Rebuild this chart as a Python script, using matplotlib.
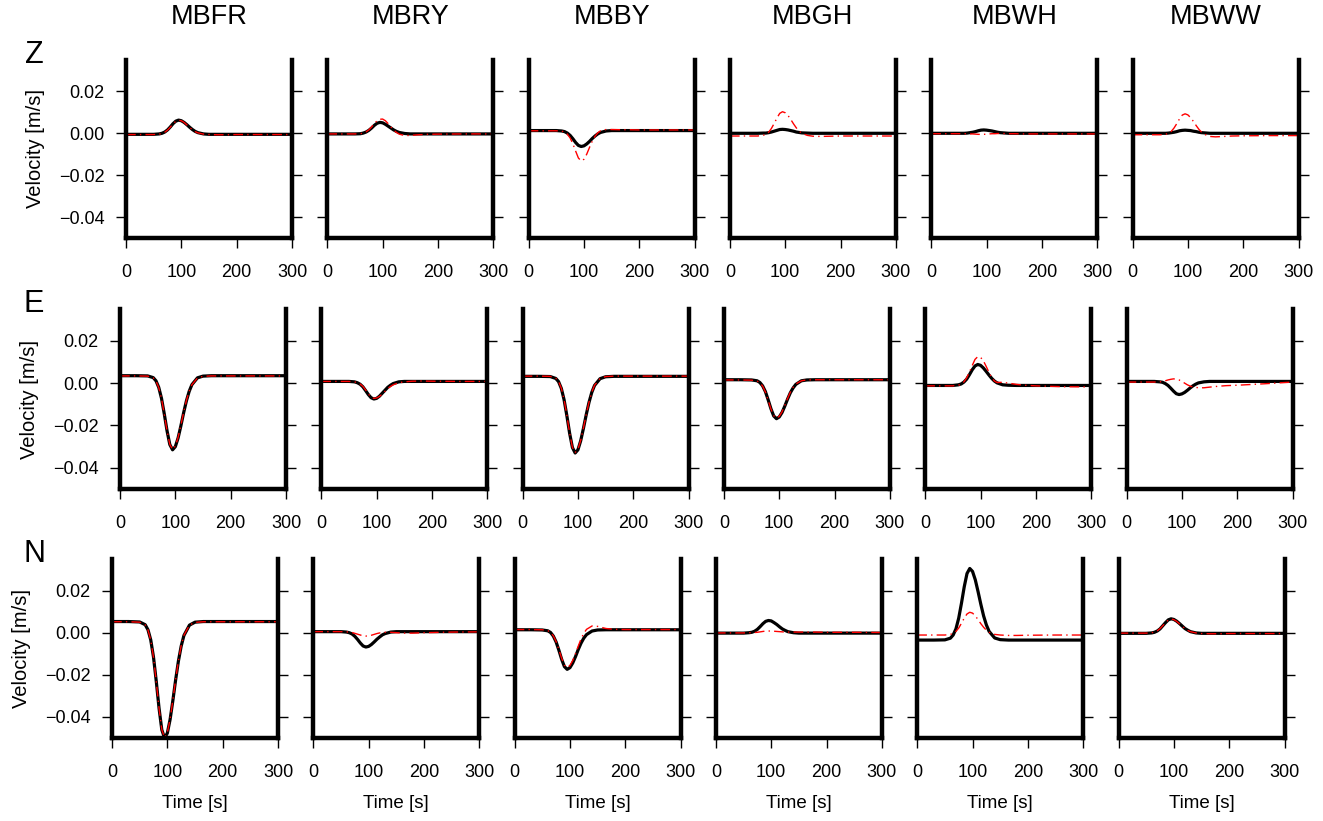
import numpy as np
import matplotlib.pyplot as plt

plt.rcParams['font.family'] = ['Liberation Sans', 'DejaVu Sans']

stations = ['MBFR', 'MBRY', 'MBBY', 'MBGH', 'MBWH', 'MBWW']
components = ['Z', 'E', 'N']

# sample times [s]
t = np.array([0, 30, 50, 60, 65, 70, 75, 80, 85, 90, 95, 100, 105, 110, 115,
              120, 125, 130, 140, 150, 165, 180, 200, 250, 300])

# velocities in mm/s: observed (black) and synthetic (red) per component/station
obs = {
    'Z': [
        [-0.5, -0.5, -0.5, -0.3, 0.0, 0.6, 1.6, 3.0, 4.6, 5.8, 6.3, 6.0, 5.2, 4.1, 2.9, 1.8, 0.9, 0.3, -0.3, -0.5, -0.5, -0.5, -0.5, -0.5, -0.5],
        [-0.3, -0.3, -0.3, -0.2, 0.1, 0.6, 1.4, 2.5, 3.8, 4.8, 5.2, 5.0, 4.3, 3.4, 2.5, 1.6, 0.9, 0.4, -0.1, -0.3, -0.3, -0.3, -0.3, -0.3, -0.3],
        [1.3, 1.3, 1.3, 1.1, 0.8, 0.1, -1.0, -2.6, -4.4, -5.8, -6.3, -6.0, -5.1, -3.9, -2.5, -1.3, -0.3, 0.4, 1.1, 1.3, 1.3, 1.3, 1.3, 1.3, 1.3],
        [0.0, 0.0, 0.0, 0.1, 0.1, 0.3, 0.6, 1.0, 1.4, 1.8, 1.9, 1.8, 1.6, 1.3, 1.0, 0.6, 0.4, 0.2, 0.1, 0.0, 0.0, 0.0, 0.0, 0.0, 0.0],
        [0.0, 0.0, 0.0, 0.0, 0.1, 0.3, 0.5, 0.8, 1.2, 1.5, 1.6, 1.5, 1.3, 1.1, 0.8, 0.5, 0.3, 0.2, 0.0, 0.0, 0.0, 0.0, 0.0, 0.0, 0.0],
        [0.0, 0.0, 0.0, 0.0, 0.1, 0.3, 0.5, 0.8, 1.2, 1.4, 1.5, 1.4, 1.3, 1.0, 0.8, 0.5, 0.3, 0.2, 0.0, 0.0, 0.0, 0.0, 0.0, 0.0, 0.0],
    ],
    'E': [
        [3.5, 3.5, 3.4, 2.6, 1.1, -2.0, -7.2, -14.5, -22.5, -29.0, -31.5, -30.0, -25.9, -20.2, -14.0, -8.4, -3.9, -0.7, 2.5, 3.3, 3.5, 3.5, 3.5, 3.5, 3.5],
        [0.8, 0.8, 0.8, 0.6, 0.2, -0.5, -1.7, -3.5, -5.4, -6.9, -7.5, -7.2, -6.2, -4.8, -3.4, -2.0, -1.0, -0.2, 0.6, 0.8, 0.8, 0.8, 0.8, 0.8, 0.8],
        [3.2, 3.2, 3.1, 2.2, 0.7, -2.5, -7.9, -15.4, -23.7, -30.4, -33.0, -31.5, -27.2, -21.3, -14.9, -9.1, -4.4, -1.1, 2.1, 3.0, 3.2, 3.2, 3.2, 3.2, 3.2],
        [1.6, 1.6, 1.5, 1.1, 0.3, -1.3, -4.0, -7.9, -12.1, -15.5, -16.8, -16.0, -13.9, -10.9, -7.6, -4.6, -2.3, -0.6, 1.1, 1.5, 1.6, 1.6, 1.6, 1.6, 1.6],
        [-1.1, -1.1, -1.1, -0.8, -0.4, 0.5, 1.9, 4.0, 6.3, 8.1, 8.8, 8.4, 7.2, 5.6, 3.9, 2.3, 1.0, 0.1, -0.8, -1.0, -1.1, -1.1, -1.1, -1.1, -1.1],
        [0.8, 0.8, 0.8, 0.6, 0.4, -0.2, -1.1, -2.4, -3.8, -5.0, -5.4, -5.1, -4.4, -3.4, -2.3, -1.3, -0.5, 0.1, 0.6, 0.8, 0.8, 0.8, 0.8, 0.8, 0.8],
    ],
    'N': [
        [5.3, 5.3, 5.1, 3.8, 1.4, -3.4, -11.6, -23.1, -35.8, -46.1, -50.0, -47.7, -41.2, -32.2, -22.4, -13.5, -6.4, -1.3, 3.6, 5.0, 5.3, 5.3, 5.3, 5.3, 5.3],
        [0.5, 0.5, 0.5, 0.3, 0.0, -0.6, -1.7, -3.2, -4.9, -6.3, -6.8, -6.5, -5.6, -4.4, -3.1, -2.0, -1.0, -0.4, 0.3, 0.5, 0.5, 0.5, 0.5, 0.5, 0.5],
        [1.4, 1.4, 1.3, 0.9, 0.1, -1.6, -4.4, -8.3, -12.6, -16.1, -17.4, -16.6, -14.4, -11.4, -8.0, -5.0, -2.6, -0.9, 0.8, 1.3, 1.4, 1.4, 1.4, 1.4, 1.4],
        [-0.2, -0.2, -0.2, 0.0, 0.2, 0.7, 1.6, 2.9, 4.3, 5.4, 5.8, 5.6, 4.8, 3.9, 2.8, 1.8, 1.1, 0.5, 0.0, -0.2, -0.2, -0.2, -0.2, -0.2, -0.2],
        [-3.5, -3.5, -3.4, -2.6, -1.1, 1.8, 6.9, 14.0, 21.8, 28.1, 30.5, 29.1, 25.1, 19.5, 13.5, 8.0, 3.7, 0.6, -2.5, -3.3, -3.5, -3.5, -3.5, -3.5, -3.5],
        [-0.3, -0.3, -0.3, -0.1, 0.2, 0.8, 1.8, 3.3, 4.8, 6.1, 6.6, 6.3, 5.5, 4.4, 3.2, 2.0, 1.2, 0.5, -0.1, -0.3, -0.3, -0.3, -0.3, -0.3, -0.3],
    ],
}

syn = {
    'Z': [
        [-0.6, -0.6, -0.6, -0.4, -0.1, 0.5, 1.5, 2.9, 4.5, 5.7, 6.2, 6.0, 5.2, 4.0, 2.8, 1.7, 0.8, 0.2, -0.4, -0.6, -0.7, -0.7, -0.6, -0.6, -0.6],
        [-0.3, -0.3, -0.3, -0.2, 0.1, 0.7, 1.6, 3.0, 4.6, 6.0, 6.7, 6.8, 6.0, 4.6, 3.0, 1.5, 0.4, -0.4, -1.1, -1.0, -0.7, -0.5, -0.4, -0.3, -0.3],
        [1.2, 1.2, 1.2, 1.0, 0.6, -0.4, -2.2, -5.0, -8.5, -11.8, -13.2, -12.4, -10.0, -6.8, -3.8, -1.4, 0.2, 1.2, 1.8, 1.8, 1.7, 1.7, 1.6, 1.6, 1.6],
        [-1.3, -1.3, -1.3, -1.0, -0.5, 0.5, 2.3, 4.7, 7.3, 9.5, 10.3, 9.8, 8.5, 6.6, 4.5, 2.6, 1.1, 0.0, -1.0, -1.4, -1.5, -1.4, -1.3, -1.3, -1.3],
        [-0.2, -0.2, -0.2, -0.2, -0.2, -0.3, -0.3, -0.4, -0.5, -0.5, -0.5, -0.4, -0.3, -0.2, -0.2, -0.1, -0.1, -0.1, -0.2, -0.2, -0.3, -0.3, -0.3, -0.3, -0.3],
        [-0.7, -0.7, -0.7, -0.5, 0.0, 0.9, 2.5, 4.6, 6.9, 8.7, 9.3, 8.8, 7.5, 5.7, 3.7, 1.9, 0.5, -0.5, -1.5, -1.7, -1.5, -1.3, -1.2, -1.1, -1.1],
    ],
    'E': [
        [3.4, 3.4, 3.3, 2.5, 1.0, -2.1, -7.3, -14.6, -22.6, -28.9, -31.3, -29.8, -25.6, -19.9, -13.8, -8.2, -3.8, -0.7, 2.4, 3.2, 3.4, 3.4, 3.4, 3.4, 3.4],
        [0.8, 0.8, 0.8, 0.6, 0.2, -0.4, -1.5, -3.2, -5.1, -6.6, -7.2, -7.0, -6.3, -5.2, -3.9, -2.6, -1.6, -0.8, 0.2, 0.6, 0.9, 1.0, 0.9, 0.8, 0.8],
        [3.3, 3.3, 3.2, 2.3, 0.8, -2.4, -7.8, -15.3, -23.6, -30.3, -32.8, -31.2, -27.0, -21.1, -14.8, -9.0, -4.3, -1.0, 2.2, 3.1, 3.3, 3.3, 3.3, 3.3, 3.3],
        [1.5, 1.5, 1.4, 1.0, 0.2, -1.4, -4.2, -8.1, -12.2, -15.4, -16.5, -15.7, -13.6, -10.6, -7.3, -4.3, -2.0, -0.4, 1.1, 1.5, 1.6, 1.6, 1.6, 1.6, 1.6],
        [-1.3, -1.3, -1.3, -1.0, -0.5, 0.6, 2.5, 5.2, 8.3, 11.2, 12.5, 12.2, 10.6, 8.0, 5.2, 2.7, 1.0, 0.3, 0.4, 0.0, -0.6, -1.0, -1.3, -1.7, -1.8],
        [0.5, 0.5, 0.5, 0.6, 0.8, 1.1, 1.5, 1.8, 2.0, 1.9, 1.5, 0.8, 0.0, -0.8, -1.4, -1.8, -2.0, -2.2, -2.2, -1.9, -1.5, -1.2, -1.0, -0.3, 0.5],
    ],
    'N': [
        [5.2, 5.2, 5.0, 3.7, 1.3, -3.5, -11.7, -23.2, -35.9, -46.0, -49.8, -47.5, -41.0, -32.0, -22.2, -13.3, -6.2, -1.2, 3.6, 4.9, 5.2, 5.2, 5.2, 5.2, 5.2],
        [0.5, 0.5, 0.5, 0.4, 0.3, 0.1, -0.3, -0.7, -1.1, -1.5, -1.6, -1.5, -1.2, -0.8, -0.4, -0.1, 0.1, 0.2, 0.2, 0.0, -0.2, -0.2, 0.0, 0.3, 0.4],
        [1.5, 1.5, 1.4, 1.0, 0.2, -1.5, -4.2, -8.0, -12.1, -15.4, -16.5, -15.6, -13.2, -10.0, -6.4, -3.0, -0.3, 1.6, 3.2, 3.0, 2.0, 1.6, 1.5, 1.5, 1.5],
        [-0.1, -0.1, -0.1, 0.0, 0.0, 0.1, 0.2, 0.4, 0.6, 0.8, 0.8, 0.8, 0.7, 0.6, 0.5, 0.4, 0.3, 0.3, 0.3, 0.3, 0.3, 0.3, 0.2, 0.2, 0.1],
        [-1.1, -1.1, -1.1, -0.8, -0.3, 0.6, 2.2, 4.5, 6.9, 8.9, 9.7, 9.3, 8.0, 6.2, 4.3, 2.6, 1.2, 0.2, -0.8, -1.1, -1.3, -1.3, -1.2, -1.1, -1.1],
        [-0.2, -0.2, -0.2, 0.0, 0.3, 0.9, 1.9, 3.3, 4.8, 6.0, 6.5, 6.2, 5.4, 4.3, 3.1, 2.0, 1.1, 0.5, -0.1, -0.4, -0.5, -0.5, -0.4, -0.4, -0.4],
    ],
}

xticks = [0, 100, 200, 300]
yticks = [0.02, 0.0, -0.02, -0.04]
ytick_labels = ['0.02', '0.00', '\u22120.02', '\u22120.04']

W, H = 1323, 821
fig = plt.figure(figsize=(W / 100, H / 100), dpi=100)

# panel geometry in pixels
row_left = [126, 120, 112]
row_top = [60, 309, 559]
row_bot = [238, 489, 738]
pitch = 201.3
pw = 166

for r, comp in enumerate(components):
    for c, sta in enumerate(stations):
        x0 = row_left[r] + c * pitch
        ax = fig.add_axes([x0 / W, 1 - row_bot[r] / H, pw / W,
                           (row_bot[r] - row_top[r]) / H])
        ax.plot(t, np.array(obs[comp][c]) / 1000, color='black', lw=2.3,
                solid_joinstyle='round', zorder=2)
        ax.plot(t, np.array(syn[comp][c]) / 1000, color='red', lw=1.0,
                linestyle=(0, (7, 3, 1, 3)), zorder=3)
        ax.set_xlim(0, 300)
        ax.set_ylim(-0.05, 0.035)
        ax.spines['top'].set_visible(False)
        for s in ['left', 'right', 'bottom']:
            ax.spines[s].set_linewidth(3.2)
            ax.spines[s].set_zorder(4)
        ax.set_xticks(xticks)
        ax.set_yticks(yticks)
        ax.tick_params(axis='both', direction='out', length=7.5, width=1.0,
                       labelsize=13)
        ax.tick_params(axis='x', pad=11)
        ax.tick_params(axis='y', right=True, pad=8)
        if c == 0:
            ax.set_yticklabels(ytick_labels)
            ax.set_ylabel('Velocity [m/s]', fontsize=14.5)
            ax.yaxis.set_label_coords(-0.49, 0.5)
        else:
            ax.set_yticklabels([])
        if r == 2:
            ax.set_xlabel('Time [s]', fontsize=13.5)
            ax.xaxis.label.set_va('center')
            ax.xaxis.set_label_coords(0.5, -0.365)
        if r == 0:
            fig.text((x0 + pw / 2) / W, 1 - 17 / H, sta, ha='center',
                     va='center', fontsize=19.5)
    fig.text(34 / W, 1 - (row_top[r] - 5) / H, comp, ha='center',
             va='center', fontsize=22)

fig.savefig('out.png', dpi=100)
